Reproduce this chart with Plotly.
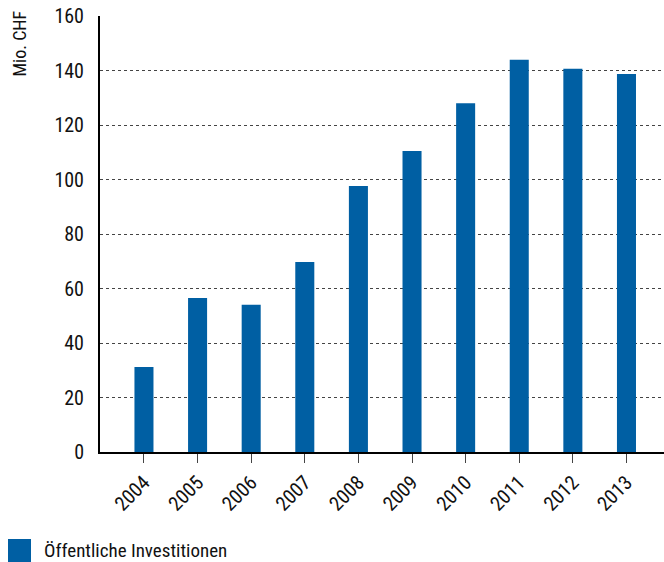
import plotly.graph_objects as go

years = ["2004", "2005", "2006", "2007", "2008", "2009", "2010", "2011", "2012", "2013"]
values = [31.2, 56.5, 54.0, 69.7, 97.6, 110.5, 128.0, 143.9, 140.6, 138.7]
series_name = "Öffentliche Investitionen"
y_title = "Mio. CHF"
y_ticks = [0, 20, 40, 60, 80, 100, 120, 140, 160]

FONT = "Liberation Sans Narrow, Roboto Condensed, Arial Narrow, Liberation Sans, sans-serif"
BLUE = "#005FA3"
PW, PH = 564, 436

fig = go.Figure()
fig.add_trace(go.Bar(x=years, y=values, marker=dict(color=BLUE, line=dict(width=0)),
                     name=series_name, showlegend=False, width=0.355))

fig.update_layout(
    width=664, height=562,
    margin=dict(l=100, r=0, t=16, b=110),
    paper_bgcolor="white", plot_bgcolor="white",
    font=dict(family=FONT, size=19, color="#111"),
    xaxis=dict(
        type="category", range=[-0.82, 9.7],
        showline=True, linecolor="black", linewidth=2,
        ticks="outside", ticklen=9, tickcolor="#444", tickwidth=1,
        tickangle=-45, tickfont=dict(size=20),
        showgrid=False, zeroline=False,
    ),
    yaxis=dict(
        range=[0, 160], tickvals=y_ticks,
        showline=True, linecolor="black", linewidth=2,
        ticks="", ticklabelstandoff=10,
        showgrid=True, gridcolor="#444", griddash="3px,3px", gridwidth=1,
        zeroline=False, tickfont=dict(size=20),
    ),
    shapes=[dict(type="rect", xref="paper", yref="paper",
                 x0=-92/PW, x1=-69/PW, y0=-87/PH, y1=-110/PH,
                 fillcolor=BLUE, line=dict(width=0))],
    annotations=[
        dict(text=y_title, xref="paper", yref="paper", x=-69/PW, y=1.0 + 7/PH,
             xanchor="right", yanchor="top", textangle=-90, showarrow=False,
             font=dict(size=18, color="#111")),
        dict(text=series_name, xref="paper", yref="paper", x=-58/PW, y=-98.5/PH,
             xanchor="left", yanchor="middle", showarrow=False,
             font=dict(size=19, color="#111")),
    ],
)

fig.write_html("out.html")
